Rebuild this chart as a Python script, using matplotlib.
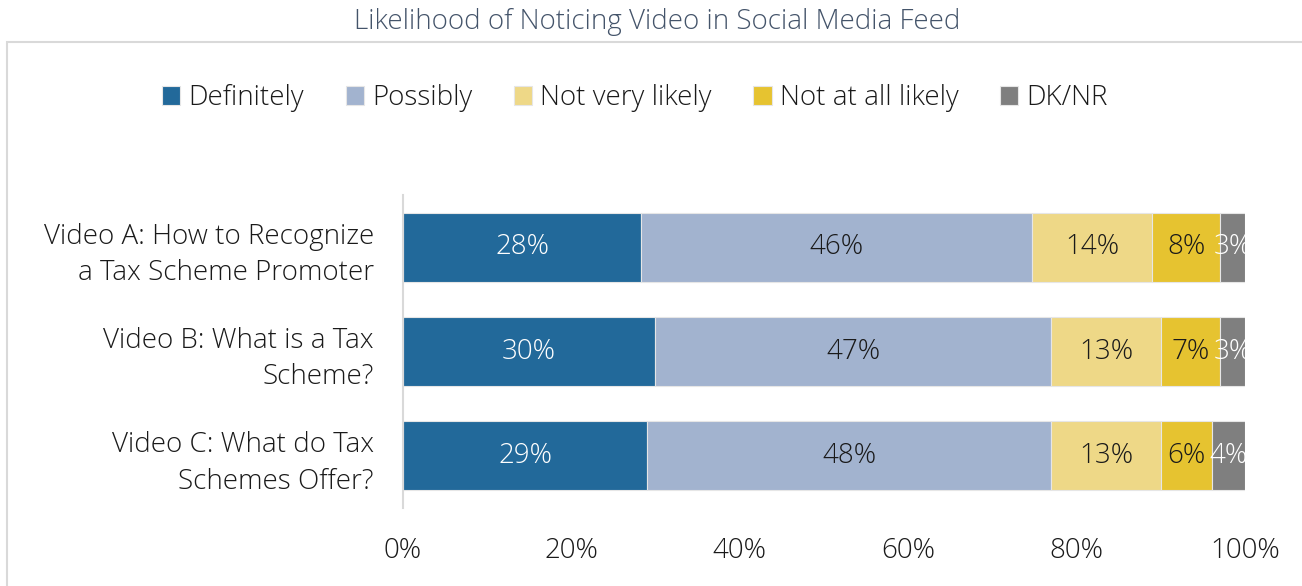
import matplotlib.pyplot as plt
from matplotlib.patches import Rectangle

plt.rcParams['font.family'] = ['Open Sans', 'DejaVu Sans']
plt.rcParams['font.weight'] = 'light'

videos = ['Video A: How to Recognize\na Tax Scheme Promoter',
          'Video B: What is a Tax\nScheme?',
          'Video C: What do Tax\nSchemes Offer?']
categories = ['Definitely', 'Possibly', 'Not very likely', 'Not at all likely', 'DK/NR']
definitely = [28.3, 29.9, 29.0]
possibly = [46.4, 47.1, 48.0]
not_very = [14.3, 13.0, 13.0]
not_at_all = [8.0, 7.0, 6.1]
dk_nr = [3.0, 3.0, 3.9]

series = [definitely, possibly, not_very, not_at_all, dk_nr]
colors = ['#22699A', '#A2B3CF', '#EED887', '#E6C330', '#7F7F7F']
text_colors = ['white', '#1a1a1a', '#1a1a1a', '#1a1a1a', 'white']

fig = plt.figure(figsize=(13.02, 5.86), dpi=100)
ax = fig.add_axes([403/1302, 1-508/586, 842/1302, 313/586])

# chart border
fig.patches.append(Rectangle((7/1302, -0.1), 1.2, 1-42/586+0.1, transform=fig.transFigure,
                             fill=False, edgecolor='#d9d9d9', lw=1.5, clip_on=False))

y = list(range(len(videos)))
left = [0.0] * len(videos)
for vals, c, tc, name in zip(series, colors, text_colors, categories):
    bars = ax.barh(y, vals, left=left, height=0.66, color=c, edgecolor='#e6e6e6',
                   linewidth=0.8, label=name)
    for i, v in enumerate(vals):
        ax.text(left[i] + v / 2, i, f'{round(v)}%', ha='center', va='center',
                color=tc, fontsize=20)
    left = [l + v for l, v in zip(left, vals)]

ax.set_xlim(0, 100)
ax.set_ylim(2.5, -0.5)
ax.set_yticks(y)
ax.set_yticklabels(videos, fontsize=20, color='#1a1a1a', linespacing=1.4)
ax.set_xticks(range(0, 101, 20))
ax.set_xticklabels([f'{t}%' for t in range(0, 101, 20)], fontsize=20, color='#1a1a1a')
ax.tick_params(length=0)
ax.tick_params(axis='y', pad=21)
ax.tick_params(axis='x', pad=21)
for s in ['top', 'right', 'bottom']:
    ax.spines[s].set_visible(False)
ax.spines['left'].set_color('#d9d9d9')
ax.spines['left'].set_linewidth(1.5)

fig.text(657/1302, 1-22/586, 'Likelihood of Noticing Video in Social Media Feed',
         ha='center', va='center', fontsize=20, color='#44546A')

fig.legend(loc='center', bbox_to_anchor=(635/1302, 1-98/586), ncol=5, frameon=False,
           fontsize=20, handlelength=0.65, handleheight=0.65, handletextpad=0.3,
           columnspacing=1.5, labelcolor='#1a1a1a')

fig.savefig('out.png', dpi=100)
